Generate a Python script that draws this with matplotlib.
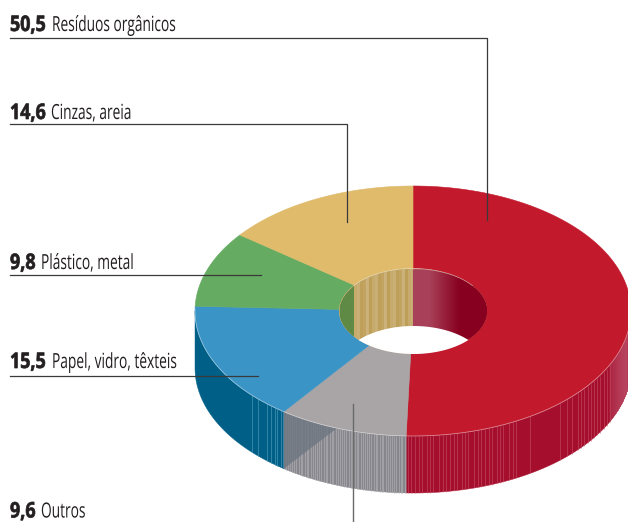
import numpy as np
import matplotlib
matplotlib.use("Agg")
import matplotlib.pyplot as plt
import matplotlib.patheffects as pe
from matplotlib.patches import Polygon
from matplotlib.transforms import Affine2D

# Composition of urban waste, percent
values = [50.5, 9.6, 15.5, 9.8, 14.6]
value_labels = ["50,5", "9,6", "15,5", "9,8", "14,6"]
names = ["Resíduos orgânicos", "Outros", "Papel, vidro, têxteis", "Plástico, metal", "Cinzas, areia"]
top_colors = ["#c2192d", "#a9a5a6", "#3a94c6", "#66ab62", "#dfbb6b"]
wall_colors = ["#a50f2d", "#85858b", "#005f87"]
stripe_colors = ["#c9566c", "#a9a9ac", "#3f8fb0"]

CX, CY = 413.0, 311.0
RX, RY = 218.0, 125.0
HX, HY = 74.0, 42.5
DEPTH = 57.0

fig = plt.figure(figsize=(6.28, 5.22), dpi=100)
ax = fig.add_axes([0, 0, 1, 1])
ax.set_xlim(0, 628)
ax.set_ylim(522, 0)
ax.axis("off")


class Squeeze(pe.AbstractPathEffect):
    """Condense glyphs horizontally about a fixed pixel column, with optional extra weight."""

    def __init__(self, sx, x0, stroke=0.0):
        super().__init__()
        self.sx, self.x0, self.stroke = sx, x0, stroke

    def draw_path(self, renderer, gc, tpath, affine, rgbFace=None):
        squeezed = affine + Affine2D().translate(-self.x0, 0).scale(self.sx, 1).translate(self.x0, 0)
        gc0 = renderer.new_gc()
        gc0.copy_properties(gc)
        if self.stroke:
            gc0.set_linewidth(self.stroke)
            gc0.set_foreground(rgbFace)
        renderer.draw_path(gc0, tpath, squeezed, rgbFace)
        gc0.restore()


def ell(theta, rx, ry, dy=0.0):
    """Point on an ellipse; theta runs clockwise from twelve o'clock."""
    return CX + rx * np.sin(theta), CY + dy - ry * np.cos(theta)


edges = 2 * np.pi * np.concatenate([[0], np.cumsum(values)]) / sum(values)
spans = list(zip(edges[:-1], edges[1:]))


def wall_x_to_theta(x):
    return np.pi - np.arcsin((x - CX) / RX) if x >= CX else np.pi + np.arcsin((CX - x) / RX)


def walk(start, stop, gaps):
    """Stripe positions from a repeating list of gaps."""
    out, x, i = [], start, 0
    while x < stop:
        out.append(x)
        x += gaps[i % len(gaps)]
        i += 1
    return out


# Outer wall, only the front half is visible
for (a, b), col in zip(spans[:3], wall_colors):
    a, b = max(a, np.pi / 2), min(b, 3 * np.pi / 2)
    t = np.linspace(a, b, 240)
    x0, y0 = ell(t, RX, RY)
    x1, y1 = ell(t[::-1], RX, RY, DEPTH)
    ax.add_patch(Polygon(np.c_[np.r_[x0, x1], np.r_[y0, y1]], fc=col, ec=col, lw=0.3, zorder=2))

# Vertical print striping on the wall
red_x = (walk(408, 515, [3, 3.5, 4.5, 2.5, 5, 3.5, 3, 6, 4])
         + [516, 530, 560, 567, 572]
         + walk(578, 612, [3, 2.5, 4, 3, 3.5]))
grey_x = walk(286, 406, [2, 1.5, 2.5, 2, 1.5, 3])
blue_x = [252, 258, 267, 271, 275, 277, 281, 283]
for xs_, col, lw, al in [(red_x, stripe_colors[0], 0.5, 0.75), (grey_x, stripe_colors[1], 0.8, 0.8),
                         (blue_x, stripe_colors[2], 0.7, 0.8)]:
    xs_ = np.array(xs_)
    top = np.array([ell(wall_x_to_theta(v), RX, RY)[1] for v in xs_])
    ax.vlines(xs_, top, top + DEPTH, color=col, lw=lw, alpha=al, zorder=2.2)

# Darker wedge of shading where the grey wall meets the blue one
seam = spans[1][1]
t = np.linspace(wall_x_to_theta(337), seam, 40)
xs, ys = ell(t, RX, RY)
x_low, y_low = ell(seam, RX, RY, DEPTH)
ax.add_patch(Polygon(np.c_[np.r_[xs, x_low], np.r_[ys, y_low]], fc="#6d7680", alpha=0.8, ec="none", zorder=2.3))

# Pale fade at the far right of the wall
fade_x = np.arange(610, 628, 1.0)
fade_top = np.array([ell(wall_x_to_theta(v), RX, RY)[1] for v in fade_x])
fade_t = (fade_x - 610) / 18
ax.vlines(fade_x, fade_top, fade_top + DEPTH, lw=1.2, zorder=2.2,
          colors=[(0.72, 0.28, 0.38, 0.25 + 0.7 * f) for f in fade_t])

# Top face
for (a, b), col in zip(spans, top_colors):
    t = np.linspace(a, b, 240)
    x0, y0 = ell(t, RX, RY)
    x1, y1 = ell(t[::-1], HX, HY)
    ax.add_patch(Polygon(np.c_[np.r_[x0, x1], np.r_[y0, y1]], fc=col, ec=col, lw=0.4, zorder=3))

# Pale rim along the front of the top face
t = np.linspace(np.pi * 0.55, edges[3] - 0.02, 300)
ax.plot(*ell(t, RX, RY), color="#ffffff", lw=0.6, alpha=0.45, zorder=3.1)

# Inner wall seen through the hole
t = np.linspace(0, 2 * np.pi, 400)
hole = Polygon(np.c_[ell(t, HX, HY)], fc="#c4a765", ec="none", zorder=4)
ax.add_patch(hole)

TAN_TONES = ["#bfa05a", "#c2a35f", "#cbb27a", "#bd9f58", "#c6ab6c", "#c9ae76"]
GREEN_TONE = "#5e8a45"


def inner_color(x):
    if x >= CX:
        f = np.clip((x - 430) / 30, 0, 1)
        return (0.66 - 0.13 * f, 0.25 - 0.25 * f, 0.35 - 0.23 * f)
    if x >= 354:
        return TAN_TONES[int(x / 3) % len(TAN_TONES)]
    return GREEN_TONE


hx = np.arange(339, 488, 0.5)
hv = np.sqrt(np.clip(1 - ((hx - CX) / HX) ** 2, 0, 1)) * HY
lines = ax.vlines(hx, CY - hv, CY + hv, colors=[inner_color(v) for v in hx], lw=0.8, zorder=4.1)
lines.set_clip_path(hole)

# Opening at the bottom of the hole
half = np.sqrt(1 - (DEPTH / (2 * HY)) ** 2) * HX
wx = np.linspace(CX - half, CX + half, 200)
wv = np.sqrt(np.clip(1 - ((wx - CX) / HX) ** 2, 0, 1)) * HY
ax.fill_between(wx, CY + DEPTH - wv, CY + wv, color="white", lw=0, zorder=4.2)
ax.plot(*ell(np.linspace(-0.93, 0.93, 200), HX, HY), color="white", lw=0.6, alpha=0.4, zorder=4.3)

# Leader lines
LINE = "#3a3a3a"
ax.plot([10, 487, 487], [38, 38, 220], color=LINE, lw=0.9, zorder=6)
ax.plot([10, 346.5, 346.5], [124, 124, 222], color=LINE, lw=0.9, zorder=6)
ax.plot([10, 261], [274.5, 274.5], color=LINE, lw=0.9, zorder=6)
ax.plot([10, 258], [375.5, 375.5], color=LINE, lw=0.9, zorder=6)
ax.plot([353, 353], [404, 522], color="#6a6a6a", lw=1.0, zorder=6)

# Labels: bold figure followed by the category name
label_y = [31, 517.5, 368, 269, 119]
name_x = [52, 41, 52, 41, 51]
for num, name, y, nx in zip(value_labels, names, label_y, name_x):
    ax.text(10, y, num, family="Open Sans", weight="bold", fontsize=15.5, color="#231f20",
            va="baseline", zorder=7, path_effects=[Squeeze(0.83, 10, stroke=0.5)])
    ax.text(nx, y, name, family="Open Sans", fontsize=15, color="#231f20",
            va="baseline", zorder=7, path_effects=[Squeeze(0.66, nx)])

fig.savefig("out.png", dpi=100)
